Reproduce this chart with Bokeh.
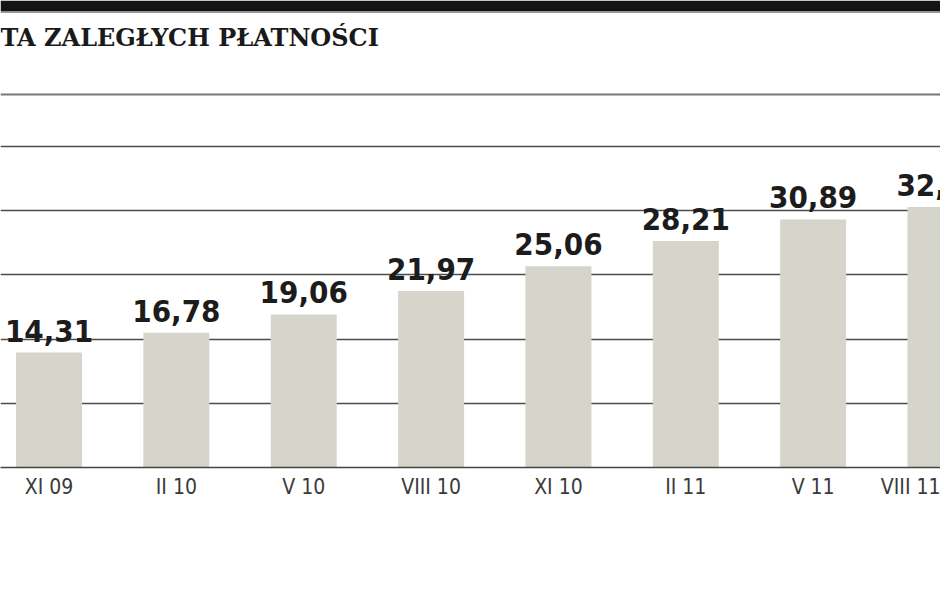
from bokeh.plotting import figure
from bokeh.models import ColumnDataSource, FixedTicker, Span, BoxAnnotation, Label
from bokeh.core.properties import value
from bokeh.embed import file_html
from bokeh.resources import INLINE

categories = ["XI 09", "II 10", "V 10", "VIII 10", "XI 10", "II 11", "V 11", "VIII 11"]
values = [14.31, 16.78, 19.06, 21.97, 25.06, 28.21, 30.89, 32.45]
grid_ticks = [0, 8, 16, 24, 32, 40]
title_text = "TA ZALEGŁYCH PŁATNOŚCI"

xs = list(range(len(categories)))
labels = [f"{v:.2f}".replace(".", ",") for v in values]
src = ColumnDataSource(dict(x=xs, top=values, lab=labels))

p = figure(width=940, height=585, output_backend="svg", toolbar_location=None,
           x_range=(-0.381, 7.0), y_range=(0, 58.16),
           min_border_left=0, min_border_right=0, min_border_top=0, min_border_bottom=118)
p.outline_line_color = None
p.background_fill_color = "white"

p.vbar(x="x", top="top", bottom=0, width=0.518, source=src, fill_color="#d5d5cb", line_color=None)
p.text(x="x", y="top", text="lab", source=src, text_align="center", text_baseline="bottom",
       y_offset=-11, text_font=value("DejaVu Sans Condensed"), text_font_style="bold",
       text_font_size="31px", text_color="#1c1c1c")

p.yaxis.visible = False
p.ygrid.ticker = FixedTicker(ticks=grid_ticks)
p.ygrid.grid_line_color = "#4d4d4d"
p.ygrid.grid_line_width = 1.6
p.xgrid.visible = False
p.ygrid.level = "underlay"

p.xaxis.ticker = FixedTicker(ticks=xs)
p.xaxis.major_label_overrides = {i: c for i, c in zip(xs, categories)}
p.xaxis.major_tick_line_color = None
p.xaxis.minor_tick_line_color = None
p.xaxis.axis_line_color = "#444444"
p.xaxis.axis_line_width = 1.6
p.xaxis.major_label_text_font = "DejaVu Sans Condensed"
p.xaxis.major_label_text_font_size = "21px"
p.xaxis.major_label_text_color = "#3a3a3a"
p.xaxis.major_label_standoff = 1

p.add_layout(BoxAnnotation(bottom=56.79, fill_color="#141414", fill_alpha=1, line_color=None))
p.add_layout(Span(location=56.70, dimension="width", line_color="#999999", line_width=1.5))
p.add_layout(Span(location=46.45, dimension="width", line_color="#777777", line_width=2))
p.add_layout(Label(x=-0.381, y=53.6, text=title_text, text_font="DejaVu Serif",
                   text_font_style="bold", text_font_size="24px", text_color="#1a1a1a",
                   text_baseline="alphabetic"))

open("out.html", "w").write(file_html(p, INLINE))
